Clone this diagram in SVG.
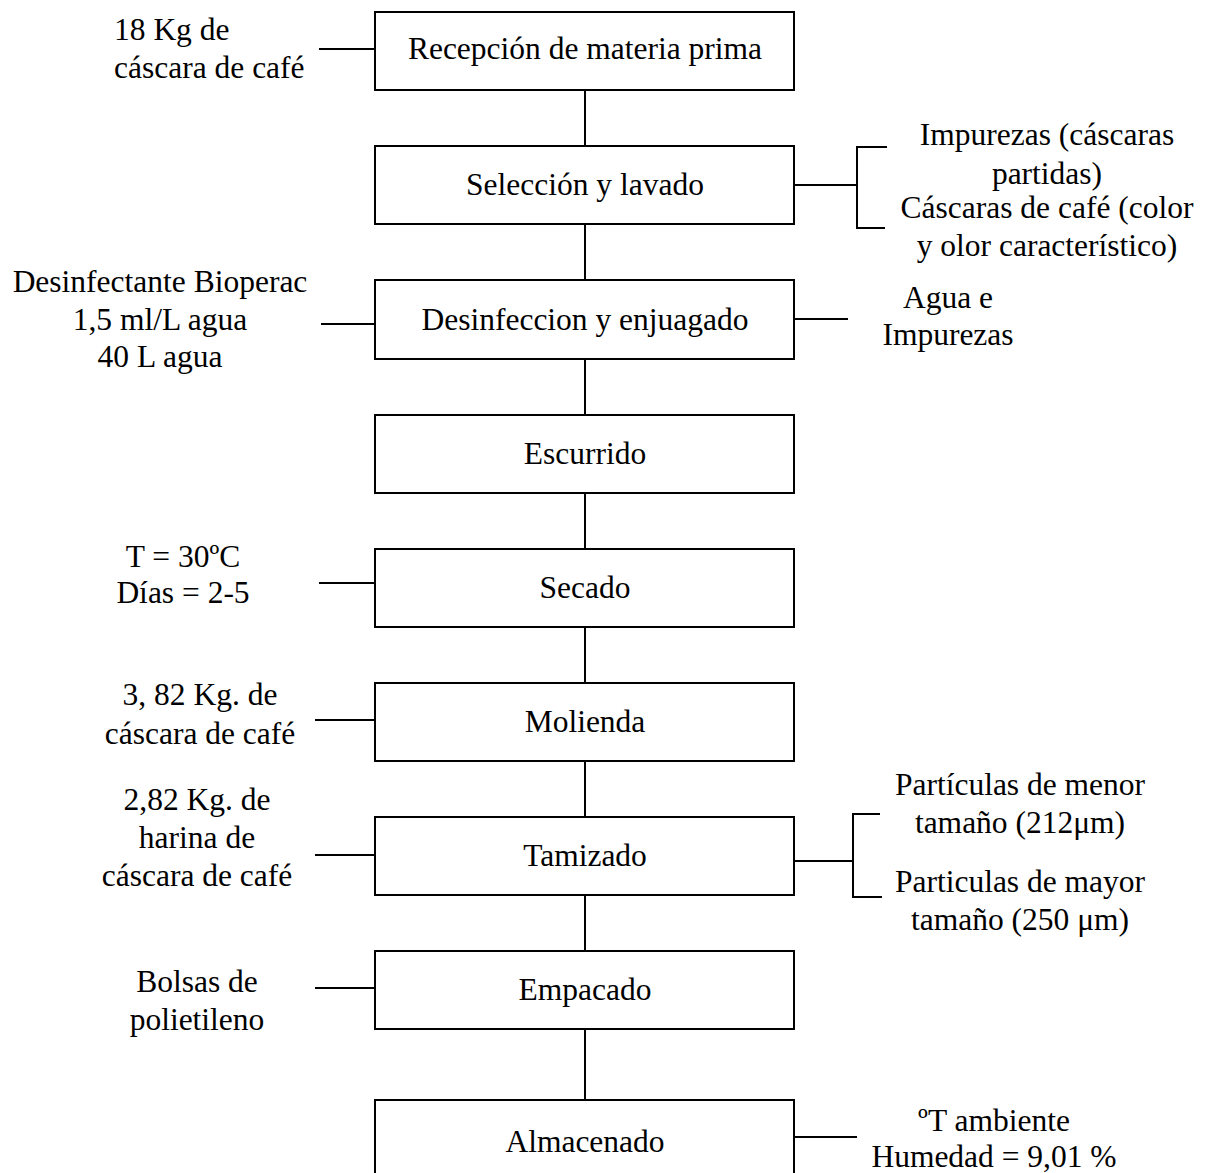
<svg xmlns="http://www.w3.org/2000/svg" width="1209" height="1173" viewBox="0 0 1209 1173">
<style>
  .box { fill: #ffffff; stroke: #000000; stroke-width: 2; }
  .ln { fill: none; stroke: #000000; stroke-width: 2; }
  text { font-family: "Liberation Serif", "Times New Roman", serif; font-size: 31.5px; fill: #000000; }
  .c { text-anchor: middle; }
</style>
<rect x="0" y="0" width="1209" height="1173" fill="#ffffff"/>
<g id="connectors">
  <line class="ln" x1="585" y1="90" x2="585" y2="146"/>
  <line class="ln" x1="585" y1="224" x2="585" y2="280"/>
  <line class="ln" x1="585" y1="359" x2="585" y2="415"/>
  <line class="ln" x1="585" y1="493" x2="585" y2="549"/>
  <line class="ln" x1="585" y1="627" x2="585" y2="683"/>
  <line class="ln" x1="585" y1="761" x2="585" y2="817"/>
  <line class="ln" x1="585" y1="895" x2="585" y2="951"/>
  <line class="ln" x1="585" y1="1029" x2="585" y2="1100"/>
  <line class="ln" x1="319" y1="49" x2="375" y2="49"/>
  <line class="ln" x1="321" y1="324" x2="375" y2="324"/>
  <line class="ln" x1="319" y1="583" x2="375" y2="583"/>
  <line class="ln" x1="315" y1="720" x2="375" y2="720"/>
  <line class="ln" x1="315" y1="855" x2="375" y2="855"/>
  <line class="ln" x1="315" y1="988" x2="375" y2="988"/>
  <line class="ln" x1="794" y1="185" x2="857" y2="185"/>
  <polyline class="ln" points="887,147 857,147 857,228 885,228"/>
  <line class="ln" x1="794" y1="319" x2="848" y2="319"/>
  <line class="ln" x1="794" y1="861" x2="853" y2="861"/>
  <polyline class="ln" points="880,814 853,814 853,897 882,897"/>
  <line class="ln" x1="794" y1="1137" x2="857" y2="1137"/>
</g>
<g id="n1"><rect class="box" x="375" y="12" width="419" height="78"/><text class="c" x="585" y="59">Recepción de materia prima</text></g>
<g id="n2"><rect class="box" x="375" y="146" width="419" height="78"/><text class="c" x="585" y="195">Selección y lavado</text></g>
<g id="n3"><rect class="box" x="375" y="280" width="419" height="79"/><text class="c" x="585" y="330">Desinfeccion y enjuagado</text></g>
<g id="n4"><rect class="box" x="375" y="415" width="419" height="78"/><text class="c" x="585" y="464">Escurrido</text></g>
<g id="n5"><rect class="box" x="375" y="549" width="419" height="78"/><text class="c" x="585" y="598">Secado</text></g>
<g id="n6"><rect class="box" x="375" y="683" width="419" height="78"/><text class="c" x="585" y="732">Molienda</text></g>
<g id="n7"><rect class="box" x="375" y="817" width="419" height="78"/><text class="c" x="585" y="866">Tamizado</text></g>
<g id="n8"><rect class="box" x="375" y="951" width="419" height="78"/><text class="c" x="585" y="1000">Empacado</text></g>
<g id="n9"><rect class="box" x="375" y="1100" width="419" height="80"/><text class="c" x="585" y="1152">Almacenado</text></g>
<g id="in1"><text x="114" y="40">18 Kg de</text><text x="114" y="78">cáscara de café</text></g>
<g id="in3"><text class="c" x="160" y="292">Desinfectante Bioperac</text><text class="c" x="160" y="330">1,5 ml/L agua</text><text class="c" x="160" y="367">40 L agua</text></g>
<g id="in5"><text class="c" x="183" y="567">T = 30ºC</text><text class="c" x="183" y="603">Días = 2-5</text></g>
<g id="in6"><text class="c" x="200" y="705">3, 82 Kg. de</text><text class="c" x="200" y="744">cáscara de café</text></g>
<g id="in7"><text class="c" x="197" y="810">2,82 Kg. de</text><text class="c" x="197" y="848">harina de</text><text class="c" x="197" y="886">cáscara de café</text></g>
<g id="in8"><text class="c" x="197" y="992">Bolsas de</text><text class="c" x="197" y="1030">polietileno</text></g>
<g id="out2"><text class="c" x="1047" y="145">Impurezas (cáscaras</text><text class="c" x="1047" y="184">partidas)</text><text class="c" x="1047" y="218">Cáscaras de café (color</text><text class="c" x="1047" y="256">y olor característico)</text></g>
<g id="out3"><text class="c" x="948" y="308">Agua e</text><text class="c" x="948" y="345">Impurezas</text></g>
<g id="out7"><text class="c" x="1020" y="795">Partículas de menor</text><text class="c" x="1020" y="833">tamaño (212μm)</text><text class="c" x="1020" y="892">Particulas de mayor</text><text class="c" x="1020" y="930">tamaño (250 μm)</text></g>
<g id="out9"><text class="c" x="994" y="1131">ºT ambiente</text><text class="c" x="994" y="1167">Humedad = 9,01 %</text></g>
</svg>
